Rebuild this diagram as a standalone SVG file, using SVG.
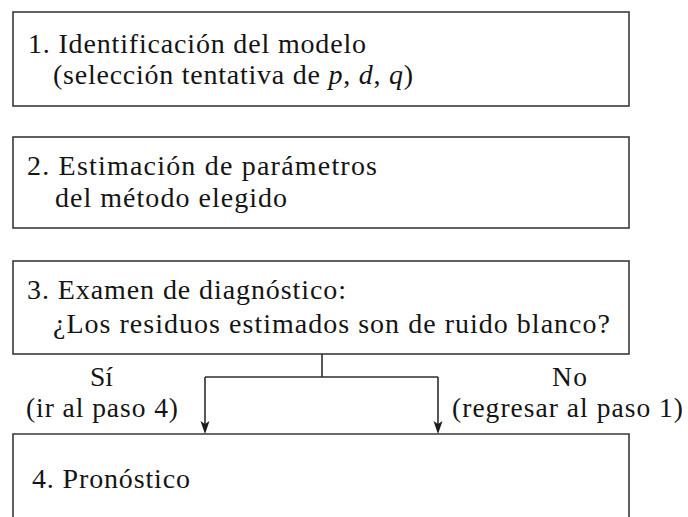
<svg xmlns="http://www.w3.org/2000/svg" width="688" height="517" viewBox="0 0 688 517">
<defs>
<style>
.box{fill:#ffffff;stroke:#3a3a3a;stroke-width:1.6}
text{font-family:'Liberation Serif','Times New Roman',serif;font-size:28px;fill:#141414}
.lbl{font-size:27.5px}
.i{font-style:italic}
.con{fill:none;stroke:#2e2e2e;stroke-width:1.6}
.head{fill:#1c1c1c;stroke:none}
</style>
</defs>
<rect width="688" height="517" fill="#ffffff"/>
<g id="node1">
<rect class="box" x="13" y="12" width="616" height="94"/>
<text x="28" y="53" textLength="338" lengthAdjust="spacing">1. Identificación del modelo</text>
<text x="53" y="84" textLength="360" lengthAdjust="spacing">(selección tentativa de <tspan class="i">p</tspan>, <tspan class="i">d</tspan>, <tspan class="i">q</tspan>)</text>
</g>
<g id="node2">
<rect class="box" x="13" y="137" width="616" height="91"/>
<text x="27" y="175" textLength="350" lengthAdjust="spacing">2. Estimación de parámetros</text>
<text x="55" y="207" textLength="232" lengthAdjust="spacing">del método elegido</text>
</g>
<g id="node3">
<rect class="box" x="13" y="261" width="616" height="93"/>
<text x="27" y="299" textLength="319" lengthAdjust="spacing">3. Examen de diagnóstico:</text>
<text x="53" y="333" textLength="557" lengthAdjust="spacing">¿Los residuos estimados son de ruido blanco?</text>
</g>
<g id="node4">
<path class="box" d="M13,530 L13,434 L629,434 L629,530"/>
<text x="32" y="488" textLength="158" lengthAdjust="spacing">4. Pronóstico</text>
</g>
<g id="connectors">
<path class="con" d="M322,354 L322,377"/>
<path class="con" d="M205,377 L438,377"/>
<path class="con" d="M205,377 L205,425"/>
<path class="con" d="M438,377 L438,425"/>
<path class="head" d="M200.5,421 L205,424 L209.5,421 L205,434 Z"/>
<path class="head" d="M433.5,421 L438,424 L442.5,421 L438,434 Z"/>
</g>
<g id="labels">
<text class="lbl" x="90" y="386" textLength="23" lengthAdjust="spacing">Sí</text>
<text class="lbl" x="26" y="417" textLength="152" lengthAdjust="spacing">(ir al paso 4)</text>
<text class="lbl" x="552" y="386" textLength="35" lengthAdjust="spacing">No</text>
<text class="lbl" x="452" y="417" textLength="231" lengthAdjust="spacing">(regresar al paso 1)</text>
</g>
</svg>
